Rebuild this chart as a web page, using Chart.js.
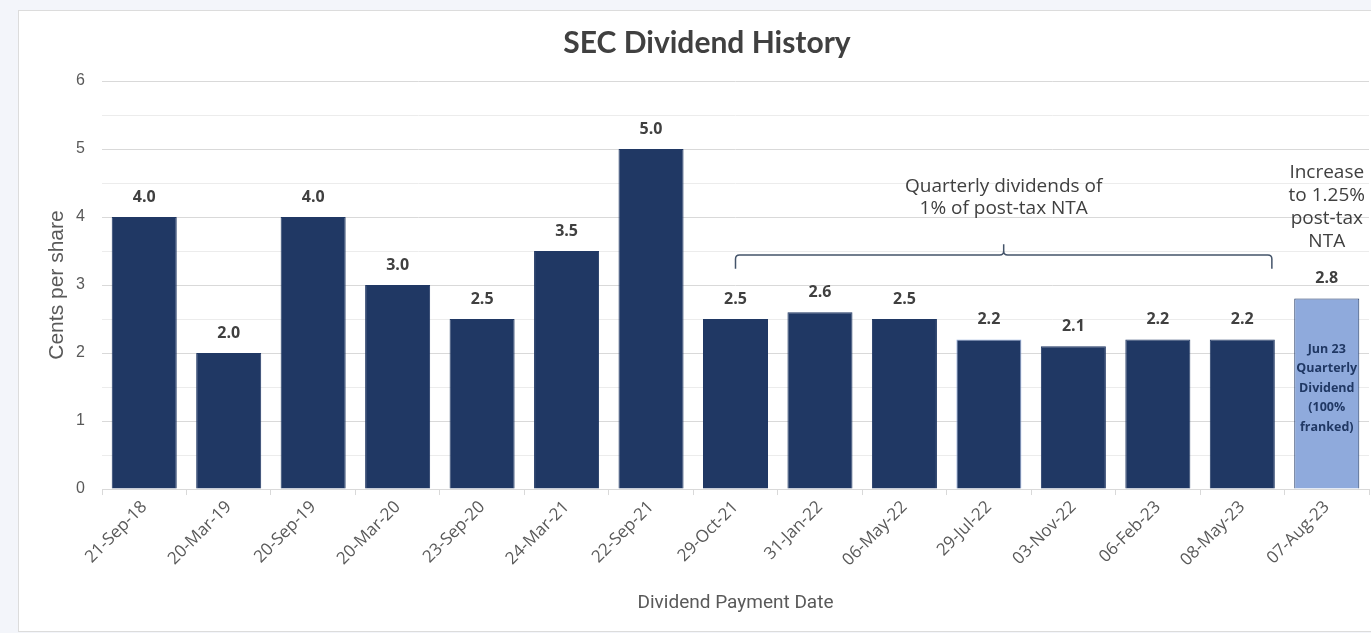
<!DOCTYPE html>
<html>
<head>
<meta charset="utf-8">
<title>SEC Dividend History</title>
<script src="https://cdn.jsdelivr.net/npm/chart.js@4.4.1/dist/chart.umd.min.js"></script>
<style>
    html, body {
        margin: 0;
        padding: 0;
        width: 1371px;
        height: 633px;
        overflow: hidden;
        background: #f3f5fa;
    }

    #panel {
        position: absolute;
        left: 18px;
        top: 10px;
        width: 1380px;
        height: 620px;
        background: #ffffff;
        border: 1px solid #dcdcdc;
    }

    #wrap {
        position: absolute;
        left: 0;
        top: 0;
        width: 1353px;
        height: 620px;
    }
</style>
</head>
<body>
<div id="panel">
    <div id="wrap"><canvas id="goo"></canvas></div>
</div>

<script>
const categories = ['21-Sep-18', '20-Mar-19', '20-Sep-19', '20-Mar-20', '23-Sep-20', '24-Mar-21', '22-Sep-21',
    '29-Oct-21', '31-Jan-22', '06-May-22', '29-Jul-22', '03-Nov-22', '06-Feb-23', '08-May-23', '07-Aug-23'];
const dividends = [4.0, 2.0, 4.0, 3.0, 2.5, 3.5, 5.0, 2.5, 2.6, 2.5, 2.2, 2.1, 2.2, 2.2, 2.8];
const valueLabels = ['4.0', '2.0', '4.0', '3.0', '2.5', '3.5', '5.0', '2.5', '2.6', '2.5', '2.2', '2.1', '2.2', '2.2', '2.8'];
const yTickLabels = ['0', '1', '2', '3', '4', '5', '6'];

const bracketNote = ['Quarterly dividends of', '1% of post-tax NTA'];
const increaseNote = ['Increase', 'to 1.25%', 'post-tax', 'NTA'];
const lastBarNote = ['Jun 23', 'Quarterly', 'Dividend', '(100%', 'franked)'];

let navy = '#203864';
let lightBlue = '#8faadc';

let barColors = categories.map(function(c, i) {
    return i == categories.length - 1 ? lightBlue : navy;
});
let barBorders = categories.map(function(c, i) {
    return c == '29-Jul-22' ? lightBlue : navy;
});

let notesPlugin = {
    id: 'notes',
    afterDatasetsDraw: function(chart) {
        let ctx = chart.ctx;
        let x = chart.scales.x;
        let y = chart.scales.y;
        let meta = chart.getDatasetMeta(0);
        let step = x.getPixelForValue(1) - x.getPixelForValue(0);

        ctx.save();
        ctx.textAlign = 'center';
        ctx.textBaseline = 'middle';

        // value labels over the bars
        ctx.fillStyle = '#404040';
        ctx.font = 'bold 16px "Open Sans"';
        meta.data.forEach(function(bar, i) {
            ctx.fillText(valueLabels[i], bar.x, bar.y - 20);
        });

        // bracket over the 1% quarterly dividends
        let left = x.getPixelForValue(7);
        let right = x.getPixelForValue(13) + step * 0.35;
        let mid = (left + right) / 2;
        let lineY = y.getPixelForValue(3.44);
        let endY = y.getPixelForValue(3.24);
        let topY = y.getPixelForValue(3.6);
        ctx.strokeStyle = '#44546a';
        ctx.lineWidth = 1.5;
        ctx.beginPath();
        ctx.moveTo(left, endY);
        ctx.lineTo(left, lineY + 4);
        ctx.quadraticCurveTo(left, lineY, left + 4, lineY);
        ctx.lineTo(mid - 4, lineY);
        ctx.quadraticCurveTo(mid, lineY, mid, lineY - 4);
        ctx.lineTo(mid, topY);
        ctx.moveTo(mid, lineY - 4);
        ctx.quadraticCurveTo(mid, lineY, mid + 4, lineY);
        ctx.lineTo(right - 4, lineY);
        ctx.quadraticCurveTo(right, lineY, right, lineY + 4);
        ctx.lineTo(right, endY);
        ctx.stroke();

        ctx.fillStyle = '#404040';
        ctx.font = '19px "Open Sans"';
        ctx.fillText(bracketNote[0], mid, y.getPixelForValue(4.45));
        ctx.fillText(bracketNote[1], mid, y.getPixelForValue(4.13));

        let lastX = x.getPixelForValue(categories.length - 1);
        let incTop = y.getPixelForValue(4.65);
        increaseNote.forEach(function(t, i) {
            ctx.fillText(t, lastX, incTop + i * 23);
        });

        ctx.fillStyle = navy;
        ctx.font = 'bold 12.5px "Open Sans"';
        let inTop = y.getPixelForValue(2.06);
        lastBarNote.forEach(function(t, i) {
            ctx.fillText(t, lastX, inTop + i * 19.5);
        });

        ctx.restore();
    }
};

var ctx = document.getElementById("goo").getContext('2d');
var goo = new Chart(ctx, {
    type: 'bar',
    data: {
        labels: categories,
        datasets: [{
            label: 'Cents per share',
            data: dividends,
            backgroundColor: barColors,
            borderColor: barBorders,
            borderWidth: 1,
            barPercentage: 0.77,
            categoryPercentage: 1
        }]
    },
    options: {
        responsive: true,
        maintainAspectRatio: false,
        animation: false,
        layout: {
            padding: { left: 26, right: 3, top: 0, bottom: 16 }
        },
        plugins: {
            legend: { display: false },
            tooltip: { enabled: false },
            title: {
                display: true,
                text: 'SEC Dividend History',
                color: '#404040',
                font: { family: 'Lato', size: 30, weight: 'bold' },
                padding: { top: 14, bottom: 20 }
            }
        },
        scales: {
            x: {
                grid: {
                    display: true,
                    offset: true,
                    drawOnChartArea: false,
                    drawTicks: true,
                    tickLength: 6,
                    color: '#d9d9d9'
                },
                border: { display: true, color: '#d9d9d9' },
                ticks: {
                    color: '#595959',
                    font: { family: 'Open Sans', size: 17 },
                    minRotation: 45,
                    maxRotation: 45,
                    autoSkip: false,
                    padding: 2
                },
                title: {
                    display: true,
                    text: 'Dividend Payment Date',
                    color: '#595959',
                    font: { family: 'Roboto', size: 19 },
                    padding: { top: 20, bottom: 0 }
                }
            },
            y: {
                min: 0,
                max: 6,
                afterFit: function(scale) {
                    scale.width = 57;
                },
                grid: {
                    drawTicks: false,
                    color: function(c) {
                        return c.tick && Number.isInteger(c.tick.value) ? '#d9d9d9' : '#ececec';
                    }
                },
                border: { display: false },
                ticks: {
                    stepSize: 0.5,
                    padding: 17,
                    color: '#595959',
                    font: { family: 'Liberation Sans', size: 16 },
                    callback: function(v) {
                        return Number.isInteger(v) ? yTickLabels[v] : '';
                    }
                },
                title: {
                    display: true,
                    text: 'Cents per share',
                    color: '#595959',
                    font: { family: 'Liberation Sans', size: 21 },
                    padding: { top: 0, bottom: 0 }
                }
            }
        }
    },
    plugins: [notesPlugin]
});
</script>
</body>
</html>
